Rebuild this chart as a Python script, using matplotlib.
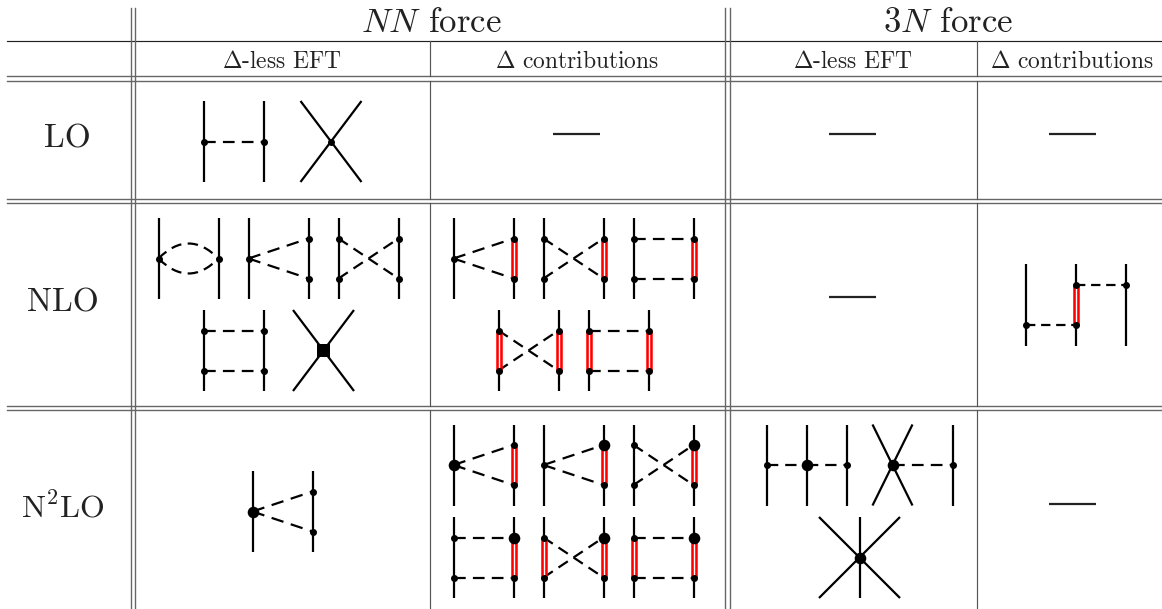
import math
import matplotlib as mlp
mlp.use('Agg')
import matplotlib.pyplot as plt
from matplotlib.path import Path
from matplotlib.patches import PathPatch, Rectangle

plt.rcParams['font.family'] = ['cmr10', 'DejaVu Sans']
plt.rcParams['mathtext.fontset'] = 'cm'
plt.rcParams['axes.formatter.use_mathtext'] = True
plt.rcParams['lines.scale_dashes'] = False

# table text: (label, x, baseline y), all read in pixels
head_labels = [('$NN$ force', 431, 31.5), ('$3N$ force', 948, 31.5)]
sub_labels = [(r'$\Delta$-less EFT', 281.5, 68), (r'$\Delta$ contributions', 577.5, 68),
              (r'$\Delta$-less EFT', 853, 68), (r'$\Delta$ contributions', 1072.5, 68)]
row_labels = [('LO', 67.5, 148, 24), ('NLO', 63, 311.5, 24), ('N$^2$LO', 62.5, 517, 23)]

# table rules
single_rules = [40.5]
double_rules = [75.5, 80.5, 198.5, 203, 405.5, 410]
double_cols = [130.5, 135, 725, 729.5]
inner_cols = [429.5, 977]
row_spans = [(40.5, 75.5), (80.5, 198.5), (203, 405.5), (410, 609)]

# "no diagram" bars: (x0, x1, y)
empty_bars = [(553, 600, 134), (829, 876, 134), (1049, 1096, 134),
              (829, 876, 297), (1049, 1096, 504)]

# two nucleon diagrams, (x left, x right, y top leg, y bottom leg)
# one pion
ope = [(203.5, 263.5, 101, 182)]
# loop
loops = [(158.5, 218.5, 218, 299)]
# x left, x right, y top, big vertex left, big vertex right, delta on left, delta on right
triangles = [
    (248.5, 308.5, 218, False, None, False, False),
    (453.5, 513.5, 218, False, None, False, True),
    (252.5, 312.5, 471, True, None, False, False),
    (453.5, 513.5, 424.5, True, None, False, True),
    (543.5, 603.5, 424.5, False, 'top', False, True),
]
crossed = [
    (338.5, 398.5, 218, None, False, False),
    (543.5, 603.5, 218, None, False, True),
    (498.5, 558.5, 310, None, True, True),
    (633.5, 693.5, 424.5, 'top', False, True),
    (543.5, 603.5, 517, 'top', True, True),
]
boxes = [
    (203.5, 263.5, 310, None, False, False),
    (633.5, 693.5, 218, None, False, True),
    (588.5, 648.5, 310, None, True, True),
    (453.5, 513.5, 517, 'top', False, True),
    (633.5, 693.5, 517, 'top', True, True),
]
# contact terms: (x centre, y centre, half width, half height, vertex)
contacts = [(331, 141.5, 30.5, 40.5, 'small'), (323.5, 350.5, 30.5, 40.5, 'square')]

# three nucleon diagrams
three_legs = [766.5, 806.5, 846.5, 952.5]
three_cross = (892.5, 465, 20, 40.5)
six_point = (859.5, 557.5, 40.5, 40.5)
delta_3n = (1026, 1076, 1126, 264, 345.5, 324.5, 284.5)

LEG = 1.6
LOOP_DASH = (0, (7.5, 4.6))
SMALL = 3.5
BIG = 5.8

fig = plt.figure(figsize=(11.62, 6.09), dpi=100)
ax = fig.add_axes([0, 0, 1, 1])
ax.set_xlim(0, 1162)
ax.set_ylim(609, 0)
ax.axis('off')


def leg(x0, y0, x1, y1):
    ax.plot([x0, x1], [y0, y1], color='black', lw=LEG, solid_capstyle='butt', zorder=2)


def dashed(x0, y0, x1, y1):
    # dashes are fitted to the line, with a gap left before the far end
    length = math.hypot(x1 - x0, y1 - y0)
    if length < 45:
        cycle = (length - 10.5) / 1.62
    elif length < 70:
        cycle = (length - 10.5) / 2.62
    else:
        # crossed lines: third dash starts right at the crossing
        cycle = length / 4
    on = 0.62 * cycle * 0.72
    off = 0.38 * cycle * 0.72
    ax.plot([x0, x1], [y0, y1], color='black', lw=LEG, linestyle=(0, (on, off)),
            dash_capstyle='butt', zorder=2)


def vertex(x, y, big=False):
    r = BIG if big else SMALL
    ax.plot([x], [y], 'o', color='black', ms=2 * r * 0.72, mew=0, zorder=5)


def delta(x, y0, y1):
    ax.plot([x, x], [y0, y1], color='#ff0000', lw=4.7, solid_capstyle='butt', zorder=3)
    ax.plot([x, x], [y0, y1], color='white', lw=1.0, solid_capstyle='butt', zorder=4)


def nucleons(xl, xr, yt):
    leg(xl, yt, xl, yt + 81)
    leg(xr, yt, xr, yt + 81)


# table rules
for y in single_rules:
    ax.plot([7, 1162], [y, y], color='#222222', lw=0.85)
for y in double_rules:
    ax.plot([7, 1162], [y, y], color='#666666', lw=1.0)
for x in double_cols:
    ax.plot([x, x], [8, 609], color='#666666', lw=1.0)
for x in inner_cols:
    for y0, y1 in row_spans:
        ax.plot([x, x], [y0, y1], color='#555555', lw=0.85)
for x0, x1, y in empty_bars:
    ax.plot([x0, x1], [y, y], color='#222222', lw=1.6, solid_capstyle='butt')

# text
for s, x, y in head_labels:
    ax.text(x, y, s, fontsize=25, ha='center', va='baseline', color='#222222')
for s, x, y in sub_labels:
    ax.text(x, y, s, fontsize=16.9, ha='center', va='baseline', color='#222222')
for s, x, y, fs in row_labels:
    ax.text(x, y, s, fontsize=fs, ha='center', va='baseline', color='#222222')

# one pion exchange
for xl, xr, yt, yb in ope:
    leg(xl, yt, xl, yb)
    leg(xr, yt, xr, yb)
    dashed(xl, 141.5, xr, 141.5)
    vertex(xl, 141.5)
    vertex(xr, 141.5)

# football
for xl, xr, yt, yb in loops:
    nucleons(xl, xr, yt)
    ym = (yt + yb) / 2
    for sign in (-1, 1):
        p = Path([(xl, ym), (xl + 20, ym + sign * 20), (xr - 20, ym + sign * 20), (xr, ym)],
                 [Path.MOVETO, Path.CURVE4, Path.CURVE4, Path.CURVE4])
        ax.add_patch(PathPatch(p, fill=False, lw=LEG, edgecolor='black', linestyle=LOOP_DASH, zorder=2))
    vertex(xl, ym)
    vertex(xr, ym)

for xl, xr, yt, big_left, right_big, dl, dr in triangles:
    nucleons(xl, xr, yt)
    y1, ym, y2 = yt + 20.5, yt + 40.5, yt + 60.5
    dashed(xl, ym, xr, y1)
    dashed(xl, ym, xr, y2)
    if dr:
        delta(xr, y1, y2)
    vertex(xl, ym, big_left)
    vertex(xr, y1, right_big == 'top')
    vertex(xr, y2)

for xl, xr, yt, right_big, dl, dr in crossed:
    nucleons(xl, xr, yt)
    y1, y2 = yt + 20.5, yt + 60.5
    dashed(xl, y1, xr, y2)
    dashed(xl, y2, xr, y1)
    if dl:
        delta(xl, y1, y2)
    if dr:
        delta(xr, y1, y2)
    vertex(xl, y1)
    vertex(xl, y2)
    vertex(xr, y1, right_big == 'top')
    vertex(xr, y2)

for xl, xr, yt, right_big, dl, dr in boxes:
    nucleons(xl, xr, yt)
    y1, y2 = yt + 20.5, yt + 60.5
    dashed(xl, y1, xr, y1)
    dashed(xl, y2, xr, y2)
    if dl:
        delta(xl, y1, y2)
    if dr:
        delta(xr, y1, y2)
    vertex(xl, y1)
    vertex(xl, y2)
    vertex(xr, y1, right_big == 'top')
    vertex(xr, y2)

for xc, yc, hw, hh, kind in contacts:
    leg(xc - hw, yc - hh, xc + hw, yc + hh)
    leg(xc - hw, yc + hh, xc + hw, yc - hh)
    if kind == 'square':
        ax.add_patch(Rectangle((xc - 6.5, yc - 6.5), 13, 13, color='black', lw=0, zorder=5))
    else:
        vertex(xc, yc)

# 3N with two pions and a contact on one nucleon
ym3 = 465
for x in three_legs:
    leg(x, 424.5, x, 505.5)
dashed(three_legs[0], ym3, three_legs[1], ym3)
dashed(three_legs[1], ym3, three_legs[2], ym3)
vertex(three_legs[0], ym3)
vertex(three_legs[1], ym3, True)
vertex(three_legs[2], ym3)

xc, yc, hw, hh = three_cross
leg(xc - hw, yc - hh, xc + hw, yc + hh)
leg(xc - hw, yc + hh, xc + hw, yc - hh)
dashed(xc, yc, three_legs[3], yc)
vertex(xc, yc, True)
vertex(three_legs[3], yc)

xc, yc, hw, hh = six_point
leg(xc - hw, yc - hh, xc + hw, yc + hh)
leg(xc - hw, yc + hh, xc + hw, yc - hh)
leg(xc, yc - hh, xc, yc + hh)
vertex(xc, yc, True)

# 3N with delta
x1, x2, x3, yt, yb, y_low, y_high = delta_3n
for x in (x1, x2, x3):
    leg(x, yt, x, yb)
dashed(x1, y_low, x2, y_low)
dashed(x2, y_high, x3, y_high)
delta(x2, y_high, y_low)
vertex(x1, y_low)
vertex(x2, y_low)
vertex(x2, y_high)
vertex(x3, y_high)

plt.savefig('out.png', dpi=100)
